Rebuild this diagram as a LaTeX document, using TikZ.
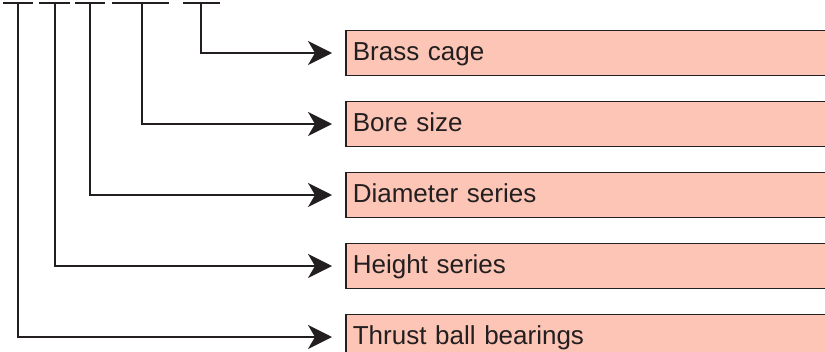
\documentclass[tikz,border=0pt]{standalone}
\usepackage{fontspec}
\setmainfont{Liberation Sans}
\usetikzlibrary{arrows.meta}
\definecolor{boxfill}{RGB}{252,197,181}
\definecolor{ink}{RGB}{35,31,32}
\tikzset{
  lbox/.style={draw=ink, line width=1.6pt, fill=boxfill, anchor=west,
    text width=540pt, align=left, inner xsep=7pt, inner ysep=0pt,
    minimum height=45pt, text height=18.6pt, text depth=3.2pt,
    font=\fontsize{26}{31}\selectfont, text=ink},
  bar/.style={draw=ink, line width=1.6pt},
  conn/.style={draw=ink, line width=1.6pt,
    -{Stealth[length=24pt, width=24pt, inset=7pt]}}
}
\begin{document}
\begin{tikzpicture}[x=1pt, y=-1pt]
\useasboundingbox (0,0) rectangle (825,351);
\clip (0,0) rectangle (825,351);
% boxes
\node[lbox] (b1) at (345,53) {Brass cage};
\node[lbox] (b2) at (345,124) {Bore size};
\node[lbox] (b3) at (345,195) {Diameter series};
\node[lbox] (b4) at (345,266) {Height series};
\node[lbox] (b5) at (345,337) {Thrust ball bearings};
% top bars
\coordinate (l1) at (3,3);   \coordinate (r1) at (33,3);
\coordinate (l2) at (39,3);  \coordinate (r2) at (70,3);
\coordinate (l3) at (75,3);  \coordinate (r3) at (105,3);
\coordinate (l4) at (112,3); \coordinate (r4) at (169,3);
\coordinate (l5) at (183,3); \coordinate (r5) at (220,3);
\draw[bar] (l1) -- (r1);
\draw[bar] (l2) -- (r2);
\draw[bar] (l3) -- (r3);
\draw[bar] (l4) -- (r4);
\draw[bar] (l5) -- (r5);
% vertical starts
\coordinate (t1) at (201,3);
\coordinate (t2) at (142,3);
\coordinate (t3) at (90,3);
\coordinate (t4) at (55,3);
\coordinate (t5) at (18,3);
% connectors
\draw[conn] (t1) |- ([xshift=-13pt]b1.west);
\draw[conn] (t2) |- ([xshift=-13pt]b2.west);
\draw[conn] (t3) |- ([xshift=-13pt]b3.west);
\draw[conn] (t4) |- ([xshift=-13pt]b4.west);
\draw[conn] (t5) |- ([xshift=-13pt]b5.west);
\end{tikzpicture}
\end{document}
